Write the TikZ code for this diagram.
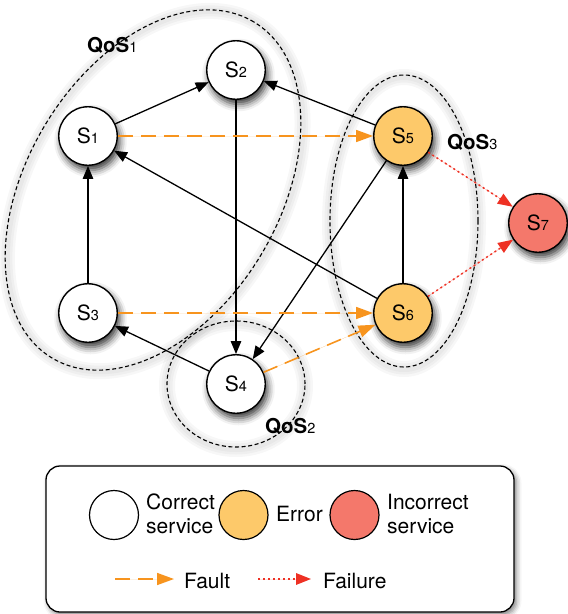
\documentclass[tikz,border=0pt]{standalone}
\usepackage{fontspec}
\setmainfont{TeX Gyre Heros}
\usetikzlibrary{arrows.meta,shadows.blur}

\definecolor{errfill}{HTML}{FDC96A}
\definecolor{badfill}{HTML}{F4786B}
\definecolor{faultc}{HTML}{F7941E}
\definecolor{failc}{HTML}{EE3124}

% service name: large S with a smaller index
\newcommand{\svcname}[1]{S{\fontsize{14.5}{14}\selectfont #1}}
% QoS group label
\newcommand{\qosname}[1]{{\bfseries QoS}{\fontsize{14.5}{14}\selectfont #1}}

\begin{document}
\begin{tikzpicture}[x=1pt,y=-1pt,
  svc/.style={circle, draw=black, line width=1.4pt, minimum size=58.5pt,
    inner sep=0pt, fill=white, font=\fontsize{21}{24}\selectfont,
    blur shadow={shadow xshift=2.5pt, shadow yshift=-5pt,
      shadow blur radius=7pt, shadow opacity=80}},
  errsvc/.style={svc, fill=errfill},
  badsvc/.style={svc, fill=badfill},
  legcirc/.style={circle, draw=black, line width=1.2pt, minimum size=49pt,
    inner sep=0pt},
  legtxt/.style={inner sep=0pt, anchor=base west, font=\fontsize{21}{24}\selectfont},
  qoslbl/.style={inner sep=0pt, anchor=base west, font=\fontsize{20.5}{24}\selectfont},
  qos/.style={draw=black, line width=1.1pt, dash pattern=on 4pt off 2.6pt},
  qosglow/.style={draw=black, opacity=0.03},
  dep/.style={-{Triangle[length=13pt,width=10.5pt]}, line width=1.3pt},
  fault/.style={-{Triangle[length=17pt,width=12pt]}, draw=faultc, fill=faultc,
    line width=1.6pt, dash pattern=on 15pt off 8pt},
  failure/.style={-{Triangle[length=15pt,width=11.5pt]}, draw=failc, fill=failc,
    line width=1.5pt, dash pattern=on 2pt off 3pt},
]
\useasboundingbox (0,0) rectangle (568,614);

% soft halo under the QoS groups
\foreach \w in {16,11,6} {
  \draw[qosglow, line width=\w pt, rotate around={59:(153,190)}]
    (153,192) ellipse [x radius=196pt, y radius=126pt];
  \draw[qosglow, line width=\w pt] (236,386) ellipse [x radius=69pt, y radius=63pt];
  \draw[qosglow, line width=\w pt] (404,223) ellipse [x radius=74pt, y radius=146pt];
}

% QoS groups
\draw[qos, rotate around={59:(153,190)}] (153,190) ellipse [x radius=196pt, y radius=126pt];
\draw[qos] (236,384) ellipse [x radius=69pt, y radius=63pt];
\draw[qos] (404,221) ellipse [x radius=74pt, y radius=146pt];

\node[qoslbl] (q1) at (87,52) {\qosname{1}};
\node[qoslbl] (q2) at (265,433) {\qosname{2}};
\node[qoslbl] (q3) at (447,149) {\qosname{3}};

% services
\node[svc] (s1) at (88,136) {\svcname{1}};
\node[svc] (s2) at (236,70) {\svcname{2}};
\node[svc] (s3) at (88,313) {\svcname{3}};
\node[svc] (s4) at (236,384) {\svcname{4}};
\node[errsvc] (s5) at (403,136) {\svcname{5}};
\node[errsvc] (s6) at (403,313) {\svcname{6}};
\node[badsvc] (s7) at (538,223) {\svcname{7}};

% dependencies
\draw[dep] (s1) -- (s2);
\draw[dep] (s3) -- (s1);
\draw[dep] (s2) -- (s4);
\draw[dep] (s5) -- (s2);
\draw[dep] (s6) -- (s1);
\draw[dep] (s5) -- (s4);
\draw[dep] (s6) -- (s5);
\draw[dep] (s4) -- (s3);

% fault propagation
\draw[fault] (s1) -- (s5);
\draw[fault] (s3) -- (s6);
\draw[fault] (s4) -- (s6);

% failures
\draw[failure] (s5) -- (s7);
\draw[failure] (s6) -- (s7);

% legend
\draw[rounded corners=14pt, line width=1.3pt, fill=white,
  blur shadow={shadow xshift=2.5pt, shadow yshift=-3pt, shadow blur radius=5pt, shadow opacity=50}]
  (46,466) rectangle (514,612);

\node[legcirc, fill=white] (lc1) at (114,515) {};
\node[legtxt] (lt1a) at (146,509) {Correct};
\node[legtxt] (lt1b) at (146,533) {service};
\node[legcirc, fill=errfill] (lc2) at (243.5,515) {};
\node[legtxt] (lt2) at (276,521) {Error};
\node[legcirc, fill=badfill] (lc3) at (354.5,515) {};
\node[legtxt] (lt3a) at (387,509) {Incorrect};
\node[legtxt] (lt3b) at (387,533) {service};

\coordinate (fa) at (115,579);
\coordinate (fb) at (174,579);
\draw[fault] (fa) -- (fb);
\node[legtxt] (lf) at (184,588) {Fault};

\coordinate (xa) at (258,579);
\coordinate (xb) at (311,579);
\draw[failure] (xa) -- (xb);
\node[legtxt] (lx) at (323,588) {Failure};
\end{tikzpicture}
\end{document}
